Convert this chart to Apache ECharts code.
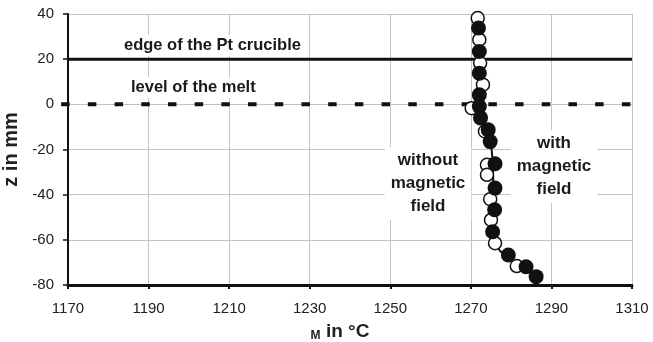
<!DOCTYPE html>
<html>
<head>
<meta charset="utf-8">
<script src="https://cdn.jsdelivr.net/npm/echarts@6/dist/echarts.min.js"></script>
<style>
  html, body {margin: 0; padding: 0; background: #fff;}
  #main {width: 653px; height: 342px;}
</style>
</head>
<body>
<div id="main"></div>
<script>
// temperature in °C, z in mm
const withField = [
  [1271.9, 33.8], [1272.1, 23.4], [1272.1, 13.8], [1272.1, 4.2], [1272.1, -1],
  [1272.4, -6], [1274.3, -11.3], [1274.8, -16.5], [1276, -26.3], [1276, -37.1],
  [1275.9, -46.7], [1275.4, -56.4], [1279.3, -66.7], [1283.7, -71.9], [1286.2, -76.3]
];
const withoutField = [
  [1271.7, 38.2], [1272.1, 28.6], [1272.3, 18.3], [1273, 8.7], [1270.2, -1.7],
  [1273.5, -12], [1274, -26.8], [1274, -31.2], [1274.8, -42], [1275, -51.2],
  [1276, -61.5], [1281.4, -71.6]
];
const fitLine = [
  [1271.2, 42.7], [1271.8, 30], [1272.2, 15], [1272.5, 2], [1273.2, -6],
  [1274.5, -14], [1275.4, -25], [1275.6, -40], [1275.5, -55], [1276.5, -63],
  [1279.5, -68], [1283, -72], [1286.5, -77]
];
const crucibleEdge = [[1170, 20], [1310, 20]];
// [x start, x end, z] - starts a bit left of the y axis like the original
const meltLevel = [[1168.3, 1310, 0]];

const labelFont = 'Liberation Sans, Arial, sans-serif';

const chart = echarts.init(document.getElementById('main'));
chart.setOption({
  animation: false,
  grid: {left: 68, right: 21, top: 14, bottom: 57, containLabel: false, outerBoundsMode: 'none'},
  xAxis: {
    type: 'value', min: 1170, max: 1310, interval: 20,
    name: '{s|M} in °C',
    nameLocation: 'middle', nameGap: 37,
    nameTextStyle: {
      color: '#222', fontSize: 19, fontWeight: 'bold', fontFamily: labelFont,
      padding: [0, 20, 0, 0],
      rich: {s: {fontSize: 12, fontWeight: 'bold', fontFamily: labelFont, color: '#222', padding: [8, 0, 0, 0]}}
    },
    axisLine: {onZero: false, lineStyle: {color: '#111', width: 3}},
    axisTick: {inside: false, length: 4, lineStyle: {color: '#111', width: 2}},
    axisLabel: {color: '#222', fontSize: 15, fontFamily: labelFont, margin: 16, formatter: v => String(v)},
    splitLine: {lineStyle: {color: '#c4c4c4', width: 1}}
  },
  yAxis: {
    type: 'value', min: -80, max: 40, interval: 20,
    name: 'z in mm',
    nameLocation: 'middle', nameGap: 44, nameRotate: 90,
    nameTextStyle: {color: '#222', fontSize: 20, fontWeight: 'bold', fontFamily: labelFont},
    axisLine: {show: true, onZero: false, lineStyle: {color: '#111', width: 2}},
    axisTick: {show: true, length: 5, lineStyle: {color: '#111', width: 1.5}},
    axisLabel: {color: '#222', fontSize: 15, fontFamily: labelFont, margin: 14},
    splitLine: {lineStyle: {color: '#c4c4c4', width: 1}}
  },
  graphic: [
    {type: 'text', x: 120, y: 35, z: 5,
      style: {text: 'edge of the Pt crucible', font: 'bold 16.5px ' + labelFont, fill: '#1a1a1a',
        backgroundColor: '#fff', padding: [2, 4]}},
    {type: 'text', x: 127, y: 77, z: 5,
      style: {text: 'level of the melt', font: 'bold 16.5px ' + labelFont, fill: '#1a1a1a',
        backgroundColor: '#fff', padding: [2, 4]}},
    {type: 'text', x: 428, y: 147, z: 5,
      style: {text: 'without\nmagnetic\nfield', font: 'bold 17px ' + labelFont, fill: '#1a1a1a',
        align: 'center', lineHeight: 23, backgroundColor: '#fff', padding: [2, 6]}},
    {type: 'text', x: 554, y: 130, z: 5,
      style: {text: 'with\nmagnetic\nfield', font: 'bold 17px ' + labelFont, fill: '#1a1a1a',
        align: 'center', lineHeight: 23, backgroundColor: '#fff', padding: [2, 6]}}
  ],
  series: [
    {
      type: 'line', data: crucibleEdge, symbol: 'none', silent: true,
      lineStyle: {color: '#111', width: 3}, z: 3
    },
    {
      // custom series so the first dash is not clipped at the y axis
      type: 'custom', data: meltLevel, silent: true, clip: false, z: 3,
      encode: {x: [0, 1], y: 2},
      renderItem(params, api) {
        const a = api.coord([api.value(0), api.value(2)]);
        const b = api.coord([api.value(1), api.value(2)]);
        return {
          type: 'line',
          shape: {x1: a[0], y1: a[1], x2: b[0], y2: b[1]},
          style: {stroke: '#111', lineWidth: 4, lineDash: [8.5, 18.2], lineCap: 'butt'}
        };
      }
    },
    {
      type: 'line', data: fitLine, symbol: 'none', smooth: true,
      lineStyle: {color: '#111', width: 2}, z: 6
    },
    {
      type: 'scatter', data: withoutField, symbol: 'circle', symbolSize: 13,
      itemStyle: {color: '#fff', borderColor: '#111', borderWidth: 1.5, opacity: 1}, z: 7
    },
    {
      type: 'scatter', data: withField, symbol: 'circle', symbolSize: 15,
      itemStyle: {color: '#111', opacity: 1}, z: 8
    }
  ]
});
</script>
</body>
</html>
